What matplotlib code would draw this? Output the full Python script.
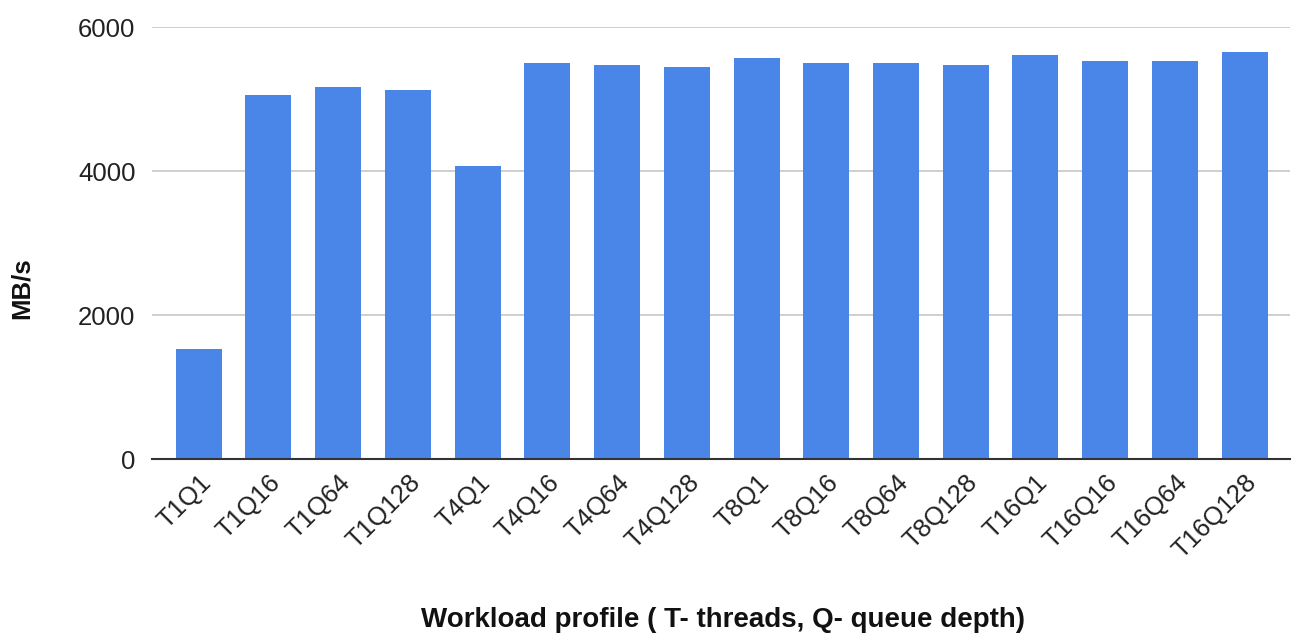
import matplotlib
matplotlib.use("Agg")
import matplotlib.pyplot as plt

# Profils de charge et débit mesuré (MB/s)
profiles = ["T1Q1", "T1Q16", "T1Q64", "T1Q128",
            "T4Q1", "T4Q16", "T4Q64", "T4Q128",
            "T8Q1", "T8Q16", "T8Q64", "T8Q128",
            "T16Q1", "T16Q16", "T16Q64", "T16Q128"]
throughput = [1525, 5050, 5160, 5125,
              4070, 5495, 5476, 5440,
              5565, 5495, 5495, 5476,
              5606, 5532, 5532, 5657]
yticks = [0, 2000, 4000, 6000]

plt.rcParams['font.family'] = ['Liberation Sans', 'DejaVu Sans']

fig = plt.figure(figsize=(12.93, 6.37), dpi=100)
ax = fig.add_axes([0.1176, 0.2794, 0.88, 0.6782])

x = range(len(profiles))
ax.bar(x, throughput, width=0.66, color="#4a86e8", zorder=3)

ax.set_xlim(-0.67, len(profiles) - 0.35)
ax.set_ylim(0, 6000)
ax.set_yticks(yticks)
ax.set_yticklabels([str(v) for v in yticks], fontsize=18.5, color="#222222")
ax.set_xticks(list(x))
ax.set_xticklabels(profiles, rotation=45, ha="right", rotation_mode="anchor",
                   fontsize=18.5, color="#222222")

ax.grid(axis="y", color="#cccccc", linewidth=1.3, zorder=0)
for s in ["top", "right", "left"]:
    ax.spines[s].set_visible(False)
ax.spines["bottom"].set_color("#333333")
ax.spines["bottom"].set_linewidth(1.5)
ax.spines["bottom"].set_zorder(4)
ax.tick_params(axis="both", length=0)
ax.tick_params(axis="y", pad=12)
ax.tick_params(axis="x", pad=8)

# Titres des axes
fig.text(0.017, 0.548, "MB/s", rotation=90, ha="center", va="center",
         fontsize=18.5, fontweight="bold", color="#111111")
fig.text(0.559, 0.027, "Workload profile ( T- threads, Q- queue depth)",
         ha="center", va="center", fontsize=20, fontweight="bold", color="#111111")

fig.savefig("out.png", dpi=100)
